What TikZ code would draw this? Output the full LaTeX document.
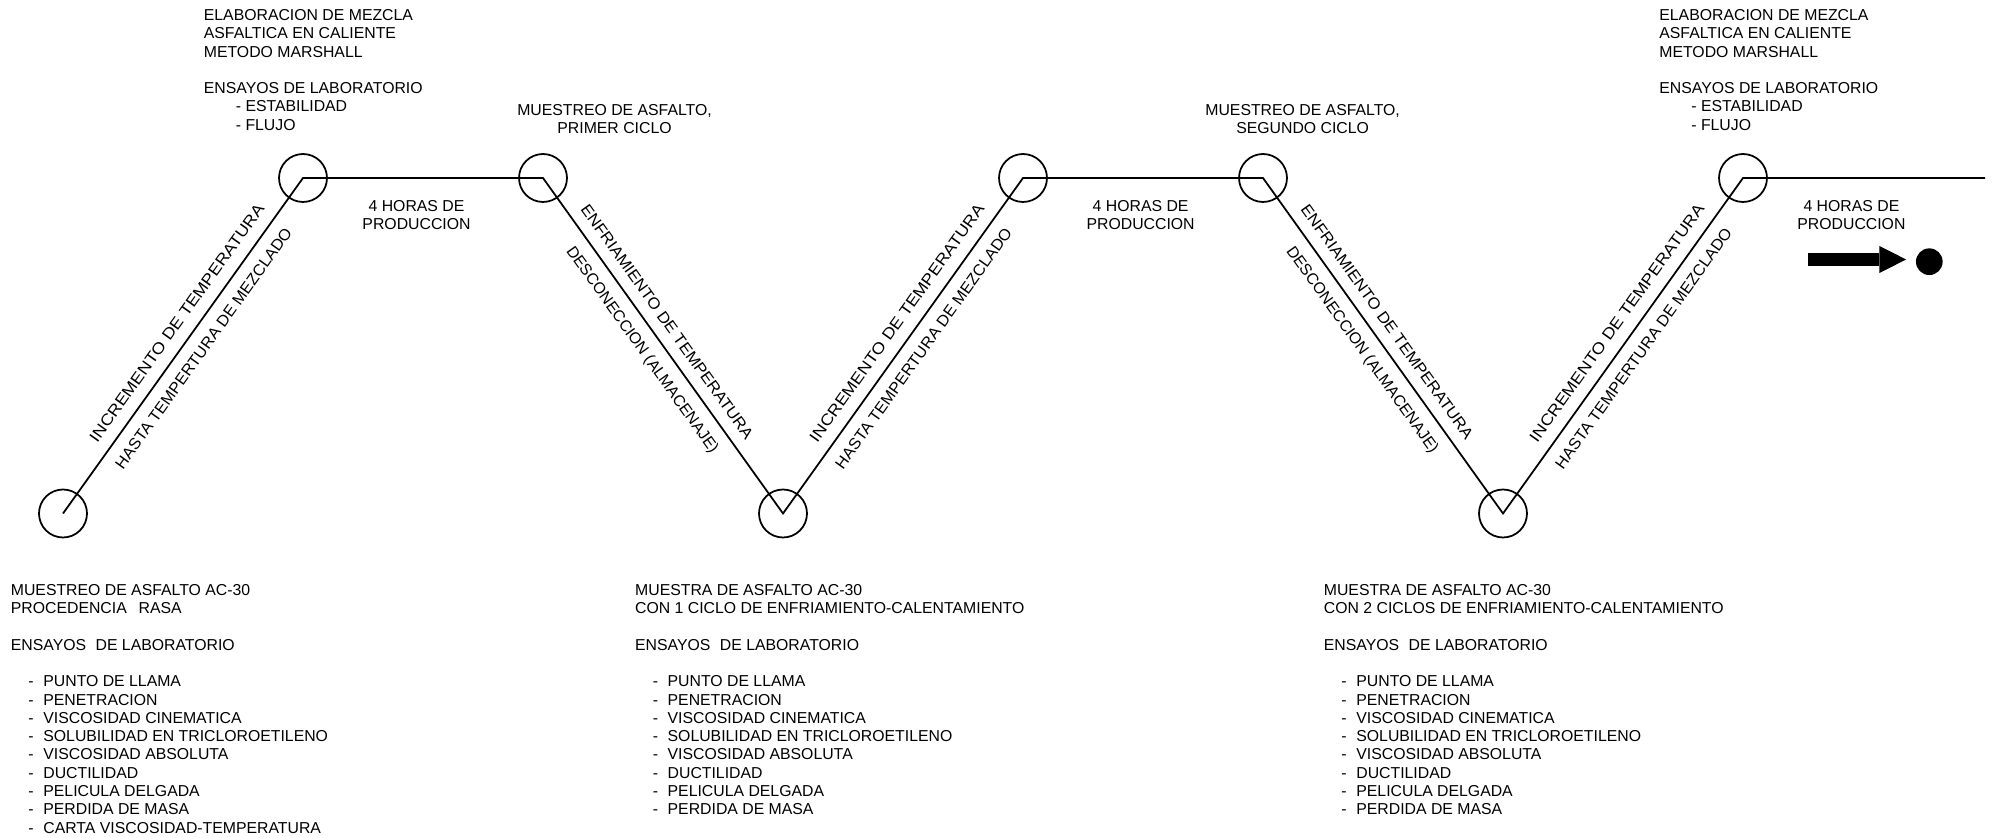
\documentclass[tikz,border=0pt]{standalone}
\usepackage{fontspec}
\usepackage{graphicx}
\setmainfont{Liberation Sans}
\usetikzlibrary{arrows.meta}
\newcommand{\itm}[1]{\hspace*{10pt}-\hspace{5.5pt}#1}
\newcommand{\subitm}[1]{\hspace*{18.2pt}- #1}
\newcommand{\ancho}[2]{\scalebox{#1}[1]{#2}}

\begin{document}
\begin{tikzpicture}[x=0.02cm,y=0.02cm,line width=1pt,
        font=\fontsize{9}{10.4}\selectfont,inner sep=0pt,
        punto/.style={draw,circle,minimum size=0.96cm},
        bloque/.style={align=left,anchor=north west},
        titulo/.style={align=center,anchor=north},
        horas/.style={align=center,below=12.3pt},
        rampa/.style={sloped,text height=6.5pt,text depth=0pt}]

    \useasboundingbox (0,0) rectangle (1992,838);

    % circulos de muestreo
    \foreach \n/\x in {t1/303,t2/543,t3/1023,t4/1263,t5/1743}
        \node[punto] (\n) at (\x,660) {};
    \foreach \n/\x in {b1/63,b2/783,b3/1503}
        \node[punto] (\n) at (\x,324.5) {};
    \coordinate (fin) at (1985,660);

    \draw (b1.center)
        -- node[rampa,pos=.536,above=6.8pt] {\ancho{1.13}{INCREMENTO DE TEMPERATURA}}
           node[rampa,pos=.524,below=6.4pt] {\ancho{1.03}{HASTA TEMPERTURA DE MEZCLADO}} (t1.center)
        -- node[horas,pos=.473] {4 HORAS DE\\PRODUCCION} (t2.center)
        -- node[rampa,pos=.459,above=6.2pt] {\ancho{1.06}{ENFRIAMIENTO DE TEMPERATURA}}
           node[rampa,pos=.479,below=6.6pt] {DESCONECCION (ALMACENAJE)} (b2.center)
        -- node[rampa,pos=.536,above=6.8pt] {\ancho{1.13}{INCREMENTO DE TEMPERATURA}}
           node[rampa,pos=.524,below=6.4pt] {\ancho{1.03}{HASTA TEMPERTURA DE MEZCLADO}} (t3.center)
        -- node[horas,pos=.49] {4 HORAS DE\\PRODUCCION} (t4.center)
        -- node[rampa,pos=.459,above=6.2pt] {\ancho{1.06}{ENFRIAMIENTO DE TEMPERATURA}}
           node[rampa,pos=.479,below=6.6pt] {DESCONECCION (ALMACENAJE)} (b3.center)
        -- node[rampa,pos=.536,above=6.8pt] {\ancho{1.13}{INCREMENTO DE TEMPERATURA}}
           node[rampa,pos=.524,below=6.4pt] {\ancho{1.03}{HASTA TEMPERTURA DE MEZCLADO}} (t5.center)
        -- node[horas,pos=.448] {4 HORAS DE\\PRODUCCION} (fin);

    % flecha final
    \coordinate (flecha) at (1808,578.5);
    \node[circle,fill,minimum size=0.534cm] (meta) at (1929.3,576.3) {};
    \draw[line width=7.6pt,-{Triangle[length=15.2pt,width=15.4pt,line width=0pt]},shorten >=5.1pt] (flecha) -- (meta.west |- flecha);

    % textos superiores
    \node[bloque] (mezcla1) at (203,829.4) {ELABORACION DE MEZCLA\\ASFALTICA EN CALIENTE\\METODO MARSHALL\\[10.4pt]ENSAYOS DE LABORATORIO\\\subitm{ESTABILIDAD}\\\subitm{FLUJO}};
    \node[bloque] (mezcla2) at (1658.5,829.4) {ELABORACION DE MEZCLA\\ASFALTICA EN CALIENTE\\METODO MARSHALL\\[10.4pt]ENSAYOS DE LABORATORIO\\\subitm{ESTABILIDAD}\\\subitm{FLUJO}};
    \node[titulo] (ciclo1) at (614.5,734.4) {MUESTREO DE ASFALTO,\\PRIMER CICLO};
    \node[titulo] (ciclo2) at (1302.6,734.4) {MUESTREO DE ASFALTO,\\SEGUNDO CICLO};

    % textos inferiores
    \node[bloque] (ensayo0) at (10,254.4) {MUESTREO DE ASFALTO AC-30\\PROCEDENCIA\hspace{0.75em}RASA\\[10.4pt]ENSAYOS\hspace{0.6em}DE LABORATORIO\\[10.4pt]%
        \itm{PUNTO DE LLAMA}\\\itm{PENETRACION}\\\itm{VISCOSIDAD CINEMATICA}\\\itm{SOLUBILIDAD EN TRICLOROETILENO}\\%
        \itm{VISCOSIDAD ABSOLUTA}\\\itm{DUCTILIDAD}\\\itm{PELICULA DELGADA}\\\itm{PERDIDA DE MASA}\\\itm{CARTA VISCOSIDAD-TEMPERATURA}};
    \node[bloque] (ensayo1) at (634.3,254.4) {MUESTRA DE ASFALTO AC-30\\CON 1 CICLO DE ENFRIAMIENTO-CALENTAMIENTO\\[10.4pt]ENSAYOS\hspace{0.6em}DE LABORATORIO\\[10.4pt]%
        \itm{PUNTO DE LLAMA}\\\itm{PENETRACION}\\\itm{VISCOSIDAD CINEMATICA}\\\itm{SOLUBILIDAD EN TRICLOROETILENO}\\%
        \itm{VISCOSIDAD ABSOLUTA}\\\itm{DUCTILIDAD}\\\itm{PELICULA DELGADA}\\\itm{PERDIDA DE MASA}};
    \node[bloque] (ensayo2) at (1323,254.4) {MUESTRA DE ASFALTO AC-30\\CON 2 CICLOS DE ENFRIAMIENTO-CALENTAMIENTO\\[10.4pt]ENSAYOS\hspace{0.6em}DE LABORATORIO\\[10.4pt]%
        \itm{PUNTO DE LLAMA}\\\itm{PENETRACION}\\\itm{VISCOSIDAD CINEMATICA}\\\itm{SOLUBILIDAD EN TRICLOROETILENO}\\%
        \itm{VISCOSIDAD ABSOLUTA}\\\itm{DUCTILIDAD}\\\itm{PELICULA DELGADA}\\\itm{PERDIDA DE MASA}};
\end{tikzpicture}
\end{document}
